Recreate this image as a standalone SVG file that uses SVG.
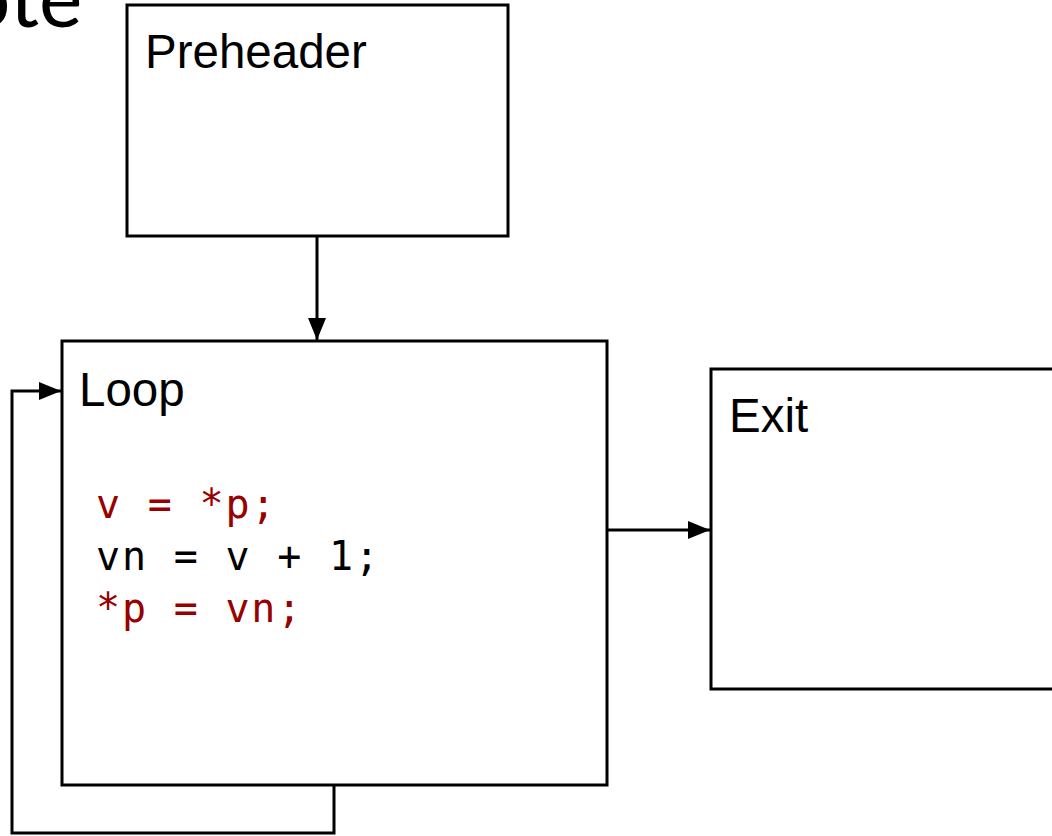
<svg xmlns="http://www.w3.org/2000/svg" width="1052" height="836" viewBox="0 0 1052 836">
  <style>
    .box { fill: #ffffff; stroke: #000000; stroke-width: 3; }
    .title { font-family: "Liberation Sans", Arial, sans-serif; font-size: 47.5px; fill: #000000; }
    .code { font-family: "DejaVu Sans Mono", "Liberation Mono", monospace; font-size: 40px; letter-spacing: 1.8px; }
    .red { fill: #990000; }
    .blk { fill: #000000; }
    .edge { fill: none; stroke: #000000; stroke-width: 3; }
  </style>
  <defs>
    <marker id="arrow" viewBox="0 0 22 18" refX="22" refY="9" markerWidth="22" markerHeight="18" markerUnits="userSpaceOnUse" orient="auto">
      <path d="M0,0 L22,9 L0,18 z" fill="#000000"/>
    </marker>
  </defs>
  <rect width="1052" height="836" fill="#ffffff"/>

  <!-- heading, partly above the top edge -->
  <text x="-36" y="27" font-family="Lato, Liberation Sans, sans-serif" font-size="82" fill="#000000">ote</text>

  <g id="preheader">
    <rect class="box" x="127" y="5" width="381" height="231"/>
    <text class="title" x="145" y="68">Preheader</text>
  </g>

  <g id="loop">
    <rect class="box" x="62" y="341" width="545" height="444"/>
    <text class="title" x="79" y="406">Loop</text>
    <text class="code red" x="96" y="518">v = *p;</text>
    <text class="code blk" x="96" y="570">vn = v + 1;</text>
    <text class="code red" x="96" y="622">*p = vn;</text>
  </g>

  <g id="exit">
    <rect class="box" x="711" y="369" width="360" height="320"/>
    <text class="title" x="729" y="432">Exit</text>
  </g>

  <g id="connectors">
    <path class="edge" d="M317,236 L317,340" marker-end="url(#arrow)"/>
    <path class="edge" d="M608,530 L710,530" marker-end="url(#arrow)"/>
    <path class="edge" d="M334,786 L334,833 L12,833 L12,391 L61,391" marker-end="url(#arrow)"/>
  </g>
</svg>
